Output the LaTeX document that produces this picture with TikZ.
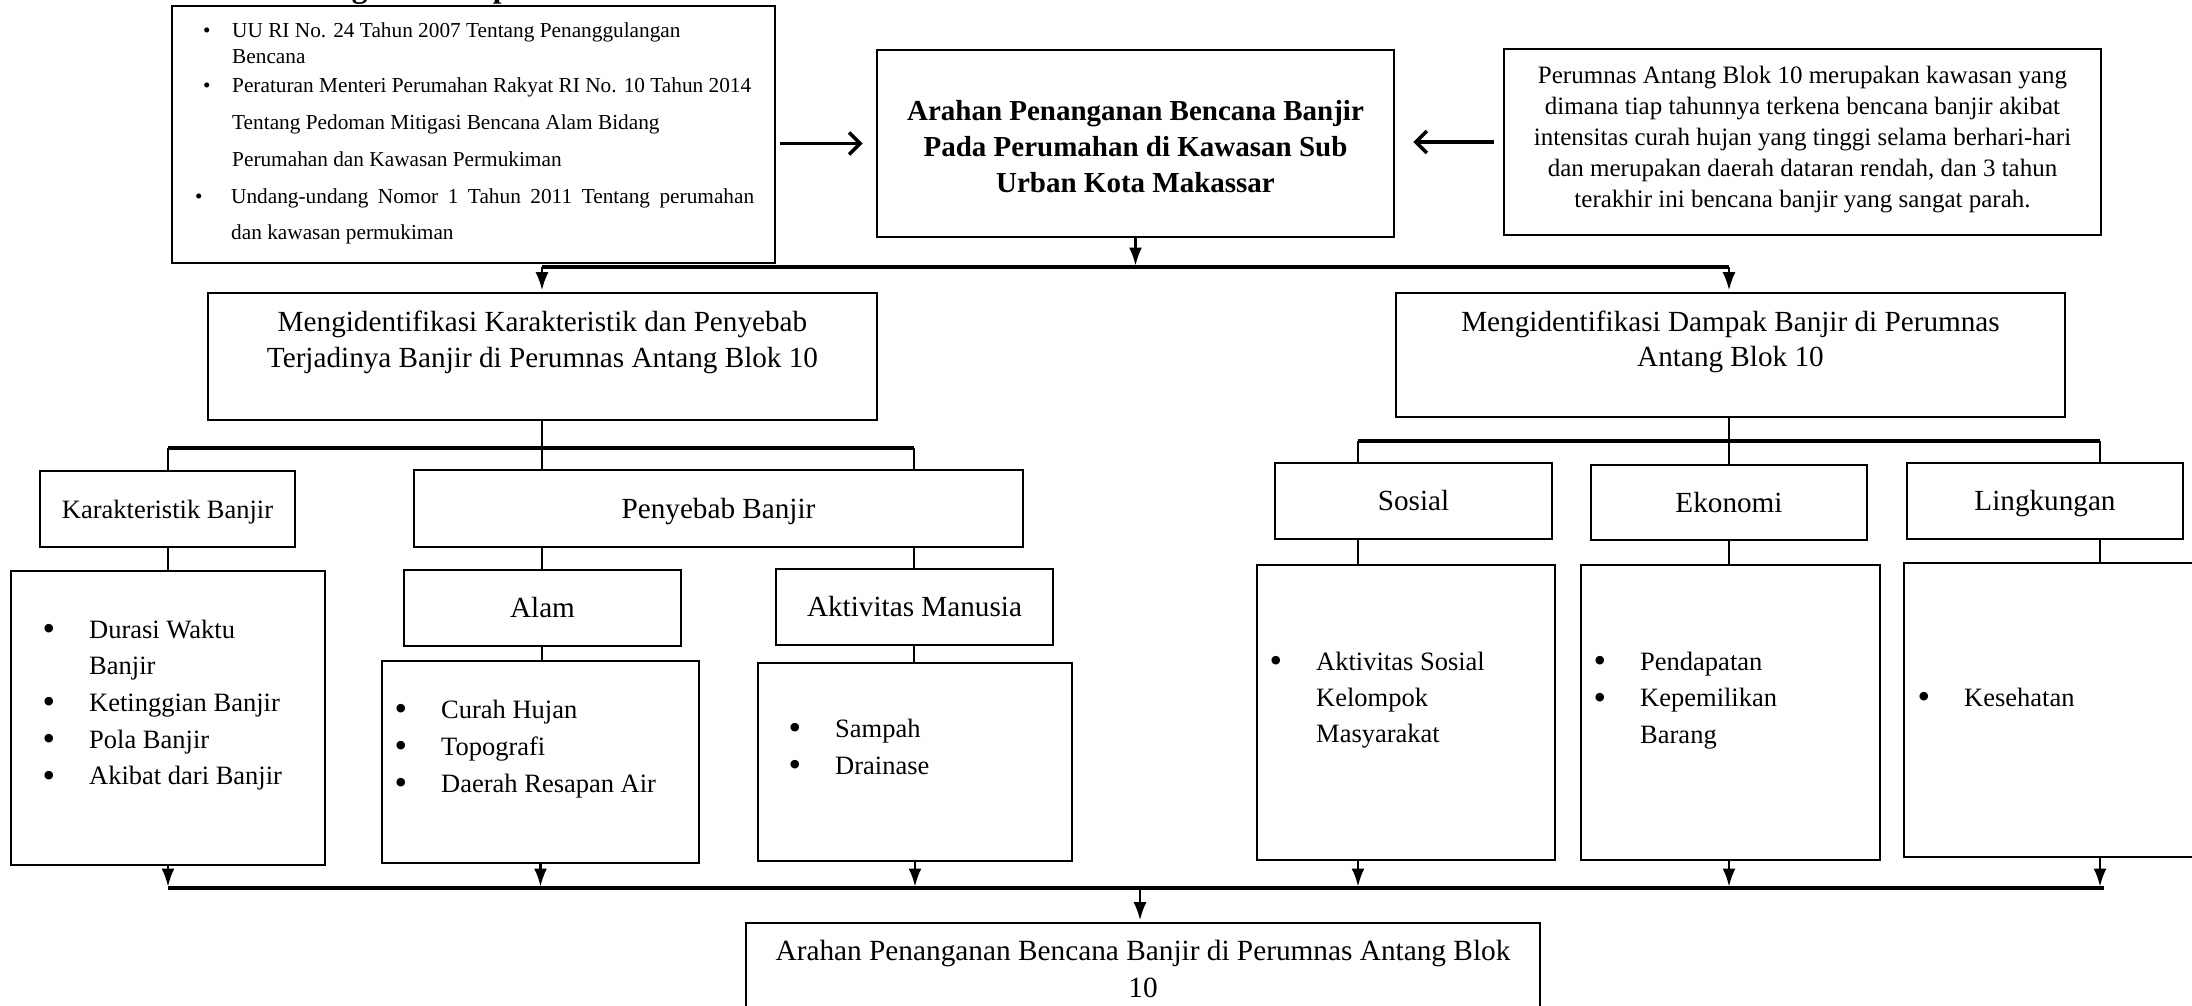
\documentclass[tikz,border=0pt]{standalone}
\usepackage{fontspec}
\usepackage{graphicx}
\setmainfont{Liberation Serif}
\usetikzlibrary{arrows.meta,calc}
\newcommand{\fA}{\fontsize{29.2}{36}\selectfont}
\newcommand{\fB}{\fontsize{26.5}{36}\selectfont}
\newcommand{\mybul}{\makebox[46.5pt][l]{\raisebox{-2.5pt}{\scalebox{1.35}{\textbullet}}}}
\newcommand{\myind}{\hspace*{46.5pt}}
\begin{document}
\begin{tikzpicture}[x=1pt,y=-1pt,
  box/.style={draw, line width=2.6pt, rectangle, inner sep=0pt},
  sbox/.style={box, text height=20pt, text depth=1pt, font=\fA},
  txt/.style={inner sep=0pt, anchor=base west},
  ctxt/.style={inner sep=0pt, anchor=base},
  conn/.style={line width=2.6pt},
  barln/.style={line width=4.5pt},
  arr/.style={line width=2.2pt, -{Latex[length=18pt,width=13pt]}, shorten >=1.5pt},
  openarr/.style={line width=3.6pt, -{Straight Barb[length=11pt,width=22pt]}}
]
\useasboundingbox (0,0) rectangle (2192,1006);

% clipped heading (only descenders visible)
\node[txt, font=\bfseries\fontsize{31.5}{36}\selectfont] (title) at (266,-2) {Kerangka Konseptual};

% ---- top row
\node[box, minimum width=603, minimum height=257] (L) at (473.5,134.5) {};
\node[box, minimum width=517, minimum height=187] (C) at (1135.5,143.5) {};
\node[box, minimum width=597, minimum height=186] (R) at (1802.5,142) {};

\node[txt, font=\fontsize{21.3}{26}\selectfont] (Lt) at (203,38) {\parbox[t]{590pt}{%
\makebox[29pt][l]{\textbullet}UU RI No. 24 Tahun 2007 Tentang Penanggulangan\\
\hspace*{29pt}Bencana\\[3pt]
\makebox[29pt][l]{\textbullet}Peraturan Menteri Perumahan Rakyat RI No. 10 Tahun 2014\\[11pt]
\hspace*{29pt}Tentang Pedoman Mitigasi Bencana Alam Bidang\\[11pt]
\hspace*{29pt}Perumahan dan Kawasan Permukiman\\[11pt]
\hspace*{-8pt}\makebox[36pt][l]{\textbullet}\makebox[523pt][s]{Undang-undang Nomor 1 Tahun 2011 Tentang perumahan}\\[10pt]
\hspace*{28pt}dan kawasan permukiman}};

\node[ctxt, font=\bfseries\fontsize{29}{36}\selectfont] (Ct) at (1135.5,121) {\parbox[t]{505pt}{\centering
Arahan Penanganan Bencana Banjir\\
Pada Perumahan di Kawasan Sub\\
Urban Kota Makassar}};

\node[ctxt, font=\fontsize{25}{31}\selectfont] (Rt) at (1802.5,84) {\parbox[t]{590pt}{\centering
Perumnas Antang Blok 10 merupakan kawasan yang\\
dimana tiap tahunnya terkena bencana banjir akibat\\
intensitas curah hujan yang tinggi selama berhari-hari\\
dan merupakan daerah dataran rendah, dan 3 tahun\\
terakhir ini bencana banjir yang sangat parah.}};

\draw[openarr, shorten <=4pt, shorten >=13pt] (L.east |- C.west) -- (C.west);
\draw[openarr, shorten <=9pt, shorten >=18pt] (R.west) -- (C.east |- R.west);

% ---- second row
\node[box, minimum width=669, minimum height=127] (K) at (542.5,356.5) {};
\node[box, minimum width=669, minimum height=124] (D) at (1730.5,355) {};
\node[ctxt, font=\fontsize{29.2}{36}\selectfont] (Kt) at (542.5,331) {\parbox[t]{650pt}{\centering
Mengidentifikasi Karakteristik dan Penyebab\\
Terjadinya Banjir di Perumnas Antang Blok 10}};
\node[ctxt, font=\fontsize{29.2}{35}\selectfont] (Dt) at (1730.5,331) {\parbox[t]{650pt}{\centering
Mengidentifikasi Dampak Banjir di Perumnas\\
Antang Blok 10}};

\coordinate (b1L) at (542,267);
\coordinate (b1R) at (1729,267);
\draw[barln] (b1L) -- (b1R);
\draw[arr] (C.south) -- (C.south |- b1L);
\draw[arr] (b1L) -- (b1L |- K.north);
\draw[arr] (b1R) -- (b1R |- D.north);

% ---- left branch
\node[sbox, font=\fB, minimum width=255, minimum height=76] (KB) at (167.5,509) {Karakteristik Banjir};
\node[sbox, minimum width=609, minimum height=77] (PB) at (718.5,508.5) {Penyebab Banjir};
\node[sbox, minimum width=277, minimum height=76] (Alam) at (542.5,608) {Alam};
\node[sbox, minimum width=277, minimum height=76] (Akt) at (914.5,607) {Aktivitas Manusia};

\node[box, minimum width=314, minimum height=294] (KarL) at (168,718) {};
\node[box, minimum width=317, minimum height=202] (AlamL) at (540.5,762) {};
\node[box, minimum width=314, minimum height=198] (AktL) at (915,762) {};

\coordinate (b2L) at (168,448);
\coordinate (b2M) at (542,448);
\coordinate (b2R) at (914,448);
\draw[conn] (K.south -| b2M) -- (b2M);
\draw[barln] (b2L) -- (b2R);
\draw[conn] (b2L) -- (b2L |- KB.north);
\draw[conn] (b2M) -- (b2M |- PB.north);
\draw[conn] (b2R) -- (b2R |- PB.north);
\draw[conn] (b2L |- KB.south) -- (b2L |- KarL.north);
\draw[conn] (b2M |- PB.south) -- (b2M |- Alam.north);
\draw[conn] (b2R |- PB.south) -- (b2R |- Akt.north);
\draw[conn] (b2M |- Alam.south) -- (b2M |- AlamL.north);
\draw[conn] (b2R |- Akt.south) -- (b2R |- AktL.north);

\node[txt, font=\fontsize{26.5}{36.7}\selectfont] (KarLt) at (42.5,638) {\parbox[t]{280pt}{%
\mybul Durasi Waktu\\
\myind Banjir\\
\mybul Ketinggian Banjir\\
\mybul Pola Banjir\\
\mybul Akibat dari Banjir}};
\node[txt, font=\fontsize{26.5}{37}\selectfont] (AlamLt) at (394.5,718) {\parbox[t]{300pt}{%
\mybul Curah Hujan\\
\mybul Topografi\\
\mybul Daerah Resapan Air}};
\node[txt, font=\fontsize{26.5}{37}\selectfont] (AktLt) at (788.5,737) {\parbox[t]{280pt}{%
\mybul Sampah\\
\mybul Drainase}};

% ---- right branch
\node[sbox, minimum width=277, minimum height=76] (Sos) at (1413.5,501) {Sosial};
\node[sbox, minimum width=276, minimum height=75] (Eko) at (1729,502.5) {Ekonomi};
\node[sbox, minimum width=276, minimum height=76] (Ling) at (2045,501) {Lingkungan};

\node[box, minimum width=298, minimum height=295] (SosL) at (1406,712.5) {};
\node[box, minimum width=299, minimum height=295] (EkoL) at (1730.5,712.5) {};
\node[box, minimum width=336, minimum height=294] (LingL) at (2072,710) {};

\coordinate (b3L) at (1358,441);
\coordinate (b3M) at (1729,441);
\coordinate (b3R) at (2100,441);
\draw[conn] (D.south -| b3M) -- (b3M);
\draw[barln] (b3L) -- (b3R);
\draw[conn] (b3L) -- (b3L |- Sos.north);
\draw[conn] (b3M) -- (b3M |- Eko.north);
\draw[conn] (b3R) -- (b3R |- Ling.north);
\draw[conn] (b3L |- Sos.south) -- (b3L |- SosL.north);
\draw[conn] (b3M |- Eko.south) -- (b3M |- EkoL.north);
\draw[conn] (b3R |- Ling.south) -- (b3R |- LingL.north);

\node[txt, font=\fontsize{26.5}{36}\selectfont] (SosLt) at (1269.5,670) {\parbox[t]{280pt}{%
\mybul Aktivitas Sosial\\
\myind Kelompok\\
\myind Masyarakat}};
\node[txt, font=\fontsize{26.5}{36.5}\selectfont] (EkoLt) at (1593.5,670) {\parbox[t]{280pt}{%
\mybul Pendapatan\\
\mybul Kepemilikan\\
\myind Barang}};
\node[txt, font=\fontsize{26.5}{36}\selectfont] (LingLt) at (1917.5,706) {\parbox[t]{260pt}{%
\mybul Kesehatan}};

% ---- bottom
\node[box, minimum width=794, minimum height=137] (Bot) at (1143,991.5) {};
\node[ctxt, font=\fontsize{29.3}{37}\selectfont] (Bott) at (1143,960) {\parbox[t]{780pt}{\centering
Arahan Penanganan Bencana Banjir di Perumnas Antang Blok\\
10}};

\coordinate (b4L) at (168,888);
\coordinate (b4R) at (2104,888);
\coordinate (b4M) at (1140,888);
\draw[barln] (b4L) -- (b4R);
\draw[arr] (b2L |- KarL.south) -- (b2L |- b4L);
\draw[arr] (AlamL.south) -- (AlamL.south |- b4L);
\draw[arr] (AktL.south) -- (AktL.south |- b4L);
\draw[arr] (b3L |- SosL.south) -- (b3L |- b4L);
\draw[arr] (b3M |- EkoL.south) -- (b3M |- b4L);
\draw[arr] (b3R |- LingL.south) -- (b3R |- b4L);
\draw[arr] (b4M) -- (b4M |- Bot.north);
\end{tikzpicture}
\end{document}
